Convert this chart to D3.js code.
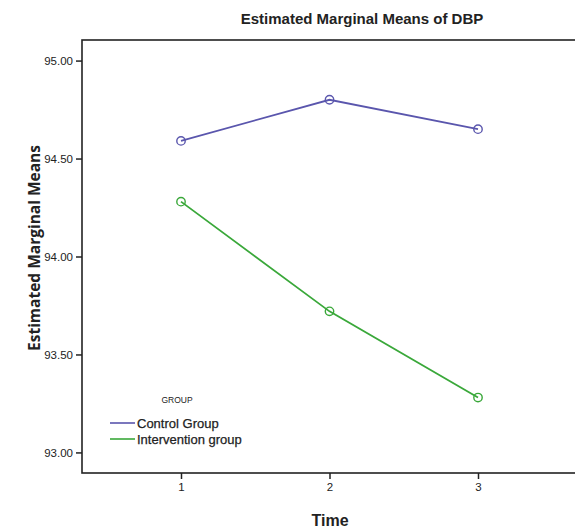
<!DOCTYPE html>
<html>
<head>
<meta charset="utf-8">
<script src="https://cdn.jsdelivr.net/npm/d3@7"></script>
<style>
  body { margin: 0; background: #fff; }
  svg text { font-family: "Liberation Sans", Arial, sans-serif; fill: #222; }
</style>
</head>
<body>
<div id="chart"></div>
<script>
// data
const times = [1, 2, 3];
const groups = ['Control Group', 'Intervention group'];
const controlMeans = [94.59, 94.80, 94.65];
const interventionMeans = [94.28, 93.72, 93.28];
const yTicks = [93.0, 93.5, 94.0, 94.5, 95.0];

const colors = ['#5a56ad', '#3aa83a'];
const series = [controlMeans, interventionMeans];

const width = 575, height = 531;
const margin = {top: 40, right: -2, bottom: 58, left: 82};
const innerW = width - margin.left - margin.right;
const innerH = height - margin.top - margin.bottom;

const svg = d3.select('#chart').append('svg')
    .attr('width', width)
    .attr('height', height);

const chart = svg.append('g')
    .attr('transform', `translate(${margin.left},${margin.top})`);

// x positions of the three time points
const xScale = d3.scalePoint()
    .domain(times)
    .range([99, 396]);

const yScale = d3.scaleLinear()
    .domain([92.895, 95.105])
    .range([innerH, 0]);

// frame
chart.append('rect')
    .attr('x', 0).attr('y', 0)
    .attr('width', innerW + 10).attr('height', innerH)
    .attr('fill', 'none')
    .attr('stroke', '#222')
    .attr('stroke-width', 1.6);

const yAxis = d3.axisLeft(yScale)
    .tickValues(yTicks)
    .tickSize(6)
    .tickPadding(3)
    .tickFormat(d3.format('.2f'));

const xAxis = d3.axisBottom(xScale)
    .tickSize(6)
    .tickPadding(4);

const yAxisG = chart.append('g').call(yAxis);
const xAxisG = chart.append('g')
    .attr('transform', `translate(0,${innerH})`)
    .call(xAxis);

[yAxisG, xAxisG].forEach(g => {
  g.select('.domain').remove();
  g.selectAll('line').attr('stroke', '#222').attr('stroke-width', 1.5);
  g.selectAll('text')
      .style('font-size', '11.5px')
      .attr('fill', '#333');
});

const line = d3.line()
    .x((d, i) => xScale(times[i]))
    .y(d => yScale(d));

series.forEach((vals, k) => {
  chart.append('path')
      .datum(vals)
      .attr('d', line)
      .attr('fill', 'none')
      .attr('stroke', colors[k])
      .attr('stroke-width', 1.8);

  chart.selectAll(`.pt${k}`)
      .data(vals)
      .join('circle')
      .attr('class', `pt${k}`)
      .attr('cx', (d, i) => xScale(times[i]))
      .attr('cy', d => yScale(d))
      .attr('r', 4.2)
      .attr('fill', 'none')
      .attr('stroke', colors[k])
      .attr('stroke-width', 1.4);
});

// titles
svg.append('text')
    .attr('x', 362).attr('y', 24)
    .attr('text-anchor', 'middle')
    .style('font-size', '15px')
    .style('font-weight', 'bold')
    .text('Estimated Marginal Means of DBP');

svg.append('text')
    .attr('transform', `translate(40,248) rotate(-90)`)
    .attr('text-anchor', 'middle')
    .style('font-family', '"Open Sans", sans-serif')
    .style('font-size', '15.5px')
    .style('font-weight', 'bold')
    .text('Estimated Marginal Means');

svg.append('text')
    .attr('x', 330).attr('y', 526)
    .attr('text-anchor', 'middle')
    .style('font-size', '16px')
    .style('font-weight', 'bold')
    .text('Time');

// legend
const legend = chart.append('g')
    .attr('transform', 'translate(28,360)');

legend.append('text')
    .attr('x', 67).attr('y', 3)
    .attr('text-anchor', 'middle')
    .style('font-size', '8.5px')
    .attr('fill', '#444')
    .text('GROUP');

groups.forEach((g, k) => {
  const row = legend.append('g')
      .attr('transform', `translate(0,${23 + k * 16})`);
  row.append('line')
      .attr('x1', 0).attr('x2', 25)
      .attr('stroke', colors[k])
      .attr('stroke-width', 1.6);
  row.append('text')
      .attr('x', 27).attr('y', 4.5)
      .style('font-size', '13px')
      .attr('stroke', '#222')
      .attr('stroke-width', 0.25)
      .text(g);
});
</script>
</body>
</html>
